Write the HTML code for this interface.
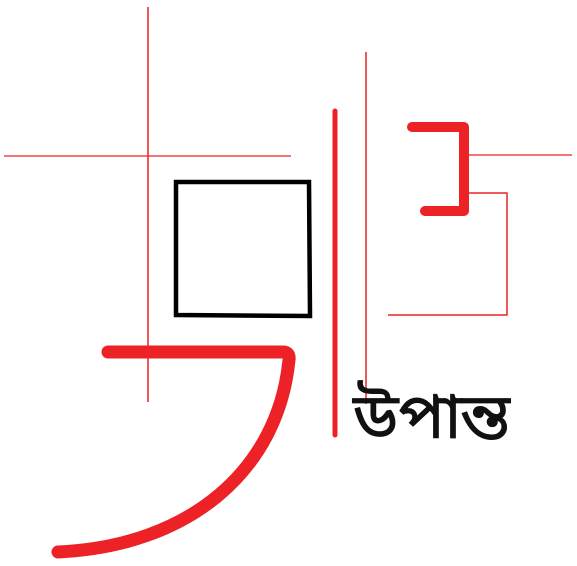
<!DOCTYPE html>
<html><head><meta charset="utf-8"><style>
html,body{margin:0;padding:0;background:#fff;width:577px;height:566px;overflow:hidden}
</style></head><body>
<svg width="577" height="566" viewBox="0 0 577 566">
<g stroke="#ed2227" fill="none" stroke-linecap="round" stroke-linejoin="round">
<line x1="148" y1="7" x2="148" y2="402" stroke-width="1.5" stroke-linecap="butt"/>
<line x1="4" y1="156" x2="291" y2="156" stroke-width="1.2" stroke-linecap="butt"/>
<line x1="366" y1="52" x2="366" y2="404" stroke-width="1.5" stroke-linecap="butt"/>
<line x1="335" y1="111" x2="335" y2="435" stroke-width="5"/>
<path d="M412,127 H464 V211 H425" stroke-width="10"/>
<line x1="467" y1="155" x2="572" y2="155" stroke-width="1.2" stroke-linecap="butt"/>
<path d="M467,193 H507 V315 H388" stroke-width="1.5" stroke-linecap="butt" stroke-linejoin="miter"/>
<path d="M108,352 H283 Q290,352 289,360 C278,470 190,546 58,552" stroke-width="13"/>
</g>
<path d="M176,182 L309,182 L310,316 L176,315 Z" fill="none" stroke="#000" stroke-width="4.5"/>
<text x="353" y="438" font-family="'Liberation Sans','Noto Sans Bengali','Lohit Bengali','FreeSans',sans-serif" font-size="63" fill="#111" stroke="#111" stroke-width="0.8" textLength="157" lengthAdjust="spacingAndGlyphs">উপান্ত</text>
</svg>
</body></html>
